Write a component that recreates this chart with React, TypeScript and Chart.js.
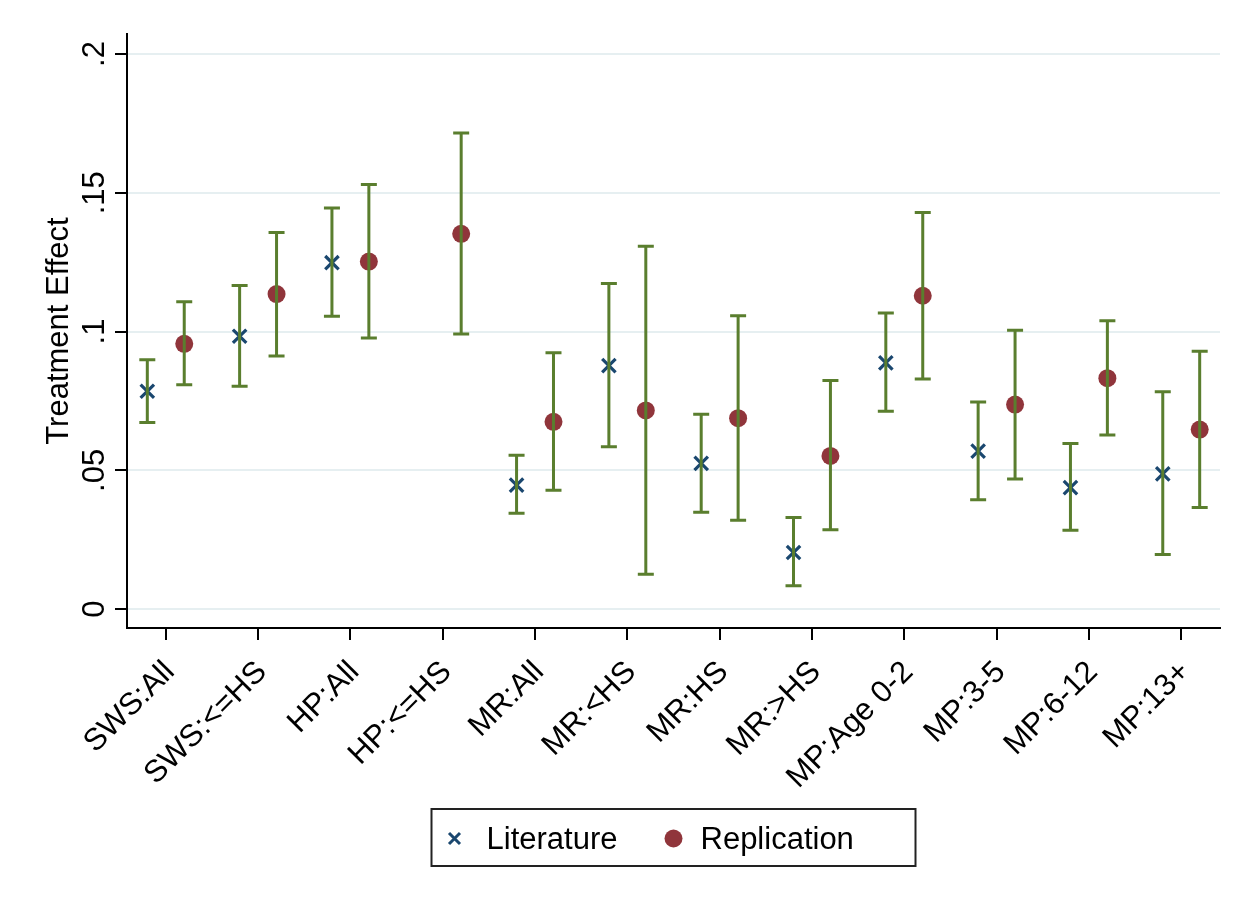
import React, { useEffect, useRef } from 'react';
import { Chart, registerables } from 'chart.js';

Chart.register(...registerables);

const categories = ['SWS:All', 'SWS:<=HS', 'HP:All', 'HP:<=HS', 'MR:All', 'MR:<HS', 'MR:HS', 'MR:>HS', 'MP:Age 0-2', 'MP:3-5', 'MP:6-12', 'MP:13+'];
const literature = [0.0785, 0.0983, 0.1248, null, 0.0447, 0.0877, 0.0525, 0.0204, 0.0887, 0.0569, 0.0438, 0.0487];
const literatureLow = [0.0672, 0.0803, 0.1055, null, 0.0345, 0.0585, 0.0349, 0.0084, 0.0713, 0.0394, 0.0284, 0.0197];
const literatureHigh = [0.0898, 0.1166, 0.1445, null, 0.0554, 0.1173, 0.0702, 0.033, 0.1067, 0.0746, 0.0597, 0.0783];
const replication = [0.0956, 0.1135, 0.1252, 0.1352, 0.0675, 0.0716, 0.0688, 0.0552, 0.1129, 0.0737, 0.0832, 0.0647];
const replicationLow = [0.0808, 0.0912, 0.0977, 0.0991, 0.0428, 0.0126, 0.032, 0.0286, 0.0829, 0.0469, 0.0627, 0.0366];
const replicationHigh = [0.1107, 0.1357, 0.153, 0.1715, 0.0924, 0.1307, 0.1057, 0.0824, 0.1429, 0.1005, 0.1039, 0.0929];
const yTicks = [0, 0.05, 0.1, 0.15, 0.2];
const yTickLabels = ['0', '.05', '.1', '.15', '.2'];
const yTitle = 'Treatment Effect';
const seriesNames = ['Literature', 'Replication'];

const FONT = 'Arial, "Liberation Sans", sans-serif';
const NAVY = '#1a476f';
const MAROON = '#90353b';
const GREEN = '#5a7e2e';
const GRID = '#e6eff1';
const OFFSET = 0.2;

const errorBarPlugin = {
  id: 'errorBars',
  afterDatasetsDraw(chart: any) {
    const { ctx, scales } = chart;
    const xs = scales.x;
    const ys = scales.y;
    ctx.save();
    ctx.strokeStyle = GREEN;
    ctx.lineWidth = 3;
    ctx.lineCap = 'butt';
    const cap = 8;
    const drawBar = (xv: number, lo: number | null, hi: number | null) => {
      if (lo == null || hi == null) return;
      const x = xs.getPixelForValue(xv);
      const y1 = ys.getPixelForValue(lo);
      const y2 = ys.getPixelForValue(hi);
      ctx.beginPath();
      ctx.moveTo(x, y1);
      ctx.lineTo(x, y2);
      ctx.moveTo(x - cap, y1);
      ctx.lineTo(x + cap, y1);
      ctx.moveTo(x - cap, y2);
      ctx.lineTo(x + cap, y2);
      ctx.stroke();
    };
    categories.forEach((_, i) => {
      drawBar(i - OFFSET, literatureLow[i], literatureHigh[i]);
      drawBar(i + OFFSET, replicationLow[i], replicationHigh[i]);
    });
    ctx.restore();
  },
  afterDraw(chart: any) {
    const { ctx, scales, chartArea } = chart;
    const ys = scales.y;
    ctx.save();
    ctx.fillStyle = '#000';
    // y tick labels, rotated
    ctx.font = `31px ${FONT}`;
    ctx.textAlign = 'center';
    ctx.textBaseline = 'alphabetic';
    yTicks.forEach((v, i) => {
      const y = ys.getPixelForValue(v);
      ctx.save();
      ctx.translate(104, y);
      ctx.rotate(-Math.PI / 2);
      ctx.fillText(yTickLabels[i], 0, 0);
      ctx.restore();
    });
    // y title
    ctx.save();
    ctx.translate(68, (chartArea.top + chartArea.bottom) / 2);
    ctx.rotate(-Math.PI / 2);
    ctx.font = `31px ${FONT}`;
    ctx.fillText(yTitle, 0, 0);
    ctx.restore();

    // legend
    const cx = (chartArea.left + chartArea.right) / 2;
    const w = 484;
    const h = 57;
    const left = cx - w / 2;
    const top = 809;
    ctx.strokeStyle = '#222';
    ctx.lineWidth = 2;
    ctx.strokeRect(left, top, w, h);
    const my = top + h / 2 + 1;
    // literature marker
    ctx.strokeStyle = NAVY;
    ctx.lineWidth = 3;
    const d = 5.5;
    const lx = left + 23;
    ctx.beginPath();
    ctx.moveTo(lx - d, my - d);
    ctx.lineTo(lx + d, my + d);
    ctx.moveTo(lx + d, my - d);
    ctx.lineTo(lx - d, my + d);
    ctx.stroke();
    ctx.font = `31px ${FONT}`;
    ctx.textAlign = 'left';
    ctx.textBaseline = 'alphabetic';
    ctx.fillStyle = '#000';
    ctx.fillText(seriesNames[0], left + 55, top + 40);
    // replication marker
    ctx.fillStyle = MAROON;
    ctx.beginPath();
    ctx.arc(left + 242, my, 9, 0, Math.PI * 2);
    ctx.fill();
    ctx.fillStyle = '#000';
    ctx.fillText(seriesNames[1], left + 269, top + 40);
    ctx.restore();
  },
};

export default function App() {
  const ref = useRef<HTMLCanvasElement | null>(null);
  useEffect(() => {
    if (!ref.current) return;
    const litData = categories
      .map((_, i) => (literature[i] == null ? null : { x: i - OFFSET, y: literature[i] as number }))
      .filter((p) => p !== null);
    const repData = categories.map((_, i) => ({ x: i + OFFSET, y: replication[i] }));
    const chart = new Chart(ref.current, {
      type: 'scatter',
      data: {
        datasets: [
          {
            label: seriesNames[0],
            data: litData as any,
            pointStyle: 'crossRot',
            pointRadius: 9.5,
            borderColor: NAVY,
            backgroundColor: NAVY,
            pointBorderWidth: 3.2,
          },
          {
            label: seriesNames[1],
            data: repData,
            pointStyle: 'circle',
            pointRadius: 9,
            borderColor: MAROON,
            backgroundColor: MAROON,
            pointBorderWidth: 0,
          },
        ],
      },
      options: {
        responsive: false,
        animation: false,
        devicePixelRatio: 1,
        layout: { padding: { top: 34, left: 0, right: 30, bottom: 0 } },
        plugins: { legend: { display: false }, tooltip: { enabled: false } },
        scales: {
          x: {
            type: 'linear',
            min: -0.42,
            max: 11.42,
            afterBuildTicks: (scale: any) => {
              scale.ticks = categories.map((_, i) => ({ value: i }));
            },
            afterFit: (scale: any) => {
              scale.height = 272;
            },
            ticks: {
              autoSkip: false,
              minRotation: 45,
              maxRotation: 45,
              color: '#000',
              padding: 14,
              labelOffset: 4,
              font: { family: FONT, size: 31 },
              callback: (v: any) => categories[Math.round(Number(v))] ?? '',
            },
            grid: { drawOnChartArea: false, tickColor: '#000', tickLength: 12, lineWidth: 2 },
            border: { color: '#000', width: 2 },
          },
          y: {
            min: -0.0068,
            max: 0.2072,
            afterBuildTicks: (scale: any) => {
              scale.ticks = yTicks.map((v) => ({ value: v }));
            },
            afterFit: (scale: any) => {
              scale.width = 127;
            },
            ticks: { display: false },
            grid: { color: GRID, tickColor: '#000', tickLength: 12, lineWidth: 2 },
            border: { color: '#000', width: 2 },
          },
        },
      },
      plugins: [errorBarPlugin],
    });
    return () => chart.destroy();
  }, []);
  return (
    <div style={{ position: 'fixed', left: 0, top: 0, width: 1250, height: 900, background: '#fff' }}>
      <canvas ref={ref} width={1250} height={900} style={{ width: 1250, height: 900 }} />
    </div>
  );
}
